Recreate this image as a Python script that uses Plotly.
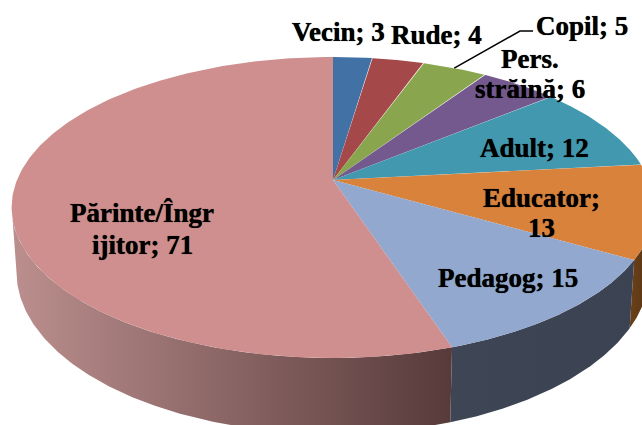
import numpy as np
import plotly.graph_objects as go

categories = ["Vecin", "Rude", "Copil", "Pers. străină", "Adult", "Educator", "Pedagog", "Părinte/Îngrijitor"]
values = [3, 4, 5, 6, 12, 13, 15, 71]
top_colors = ["#4271a6", "#a5484a", "#89a64e", "#74598f", "#4298af", "#d9823c", "#92a8cf", "#cf8f8e"]
side_scales = [
    ["#2c4a6e", "#2c4a6e"], ["#6e3031", "#6e3031"], ["#5b6e34", "#5b6e34"], ["#4d3b5f", "#4d3b5f"],
    ["#2c6574", "#2c6574"], ["#6b4018", "#543415"], ["#3e4656", "#3b4252"], ["#bb8f8e", "#573a3a"],
]
label_lines = [
    ("Vecin; 3", 338, 32), ("Rude; 4", 436, 35), ("Copil; 5", 582, 26),
    ("Pers.", 530, 59), ("străină; 6", 530, 89), ("Adult; 12", 534, 148),
    ("Educator;", 541, 198), ("13", 541, 228), ("Pedagog; 15", 508, 278),
    ("Părinte/Îngr", 142, 213), ("ijitor; 71", 142, 245),
]

# perspective projection of the pie disc
CX, CY, A, B, K, DEPTH, BASE_SCALE = 333.0, 180.0, 316.0, 145.5, 0.1827, 62.0, 0.985


def rim(deg, drop=0.0, scale=1.0):
    t = np.radians(deg)
    u, v = np.sin(t), np.cos(t)
    w = 1 + K * v
    return CX + scale * A * u / w, CY - B * v / w + drop / w


edges = np.concatenate([[0], np.cumsum(values)]) / sum(values) * 360
fig = go.Figure()

# side walls (front part only, between the silhouette angles), then top faces
for i in range(len(values)):
    a, b = max(edges[i], 105), min(edges[i + 1], 255)
    if b <= a:
        continue
    th = np.linspace(a, b, 160)
    x1, y1 = rim(th)
    x2, y2 = rim(th, DEPTH, BASE_SCALE)
    xs = np.concatenate([x1, x2[::-1]])
    ys = np.concatenate([y1, y2[::-1]])
    fig.add_trace(go.Scatter(
        x=xs, y=ys, mode="lines", fill="toself", line=dict(width=0), hoverinfo="skip",
        fillgradient=dict(type="horizontal", colorscale=[[0, side_scales[i][0]], [1, side_scales[i][1]]],
                          start=float(xs.min()), stop=float(xs.max())),
    ))

for i in range(len(values)):
    th = np.linspace(edges[i], edges[i + 1], 240)
    x, y = rim(th)
    fig.add_trace(go.Scatter(
        x=np.concatenate([[CX], x, [CX]]), y=np.concatenate([[CY], y, [CY]]),
        mode="lines", fill="toself", fillcolor=top_colors[i], line=dict(width=0),
        name=categories[i], hoverinfo="skip",
    ))

# leader line for Copil
mx, my = rim((edges[2] + edges[3]) / 2)
fig.add_trace(go.Scatter(x=[mx, 520, 533], y=[my, 31, 31], mode="lines",
                         line=dict(color="black", width=1.5), hoverinfo="skip"))

for text, x, y in label_lines:
    fig.add_annotation(x=x, y=y, text=f"<b>{text}</b>", showarrow=False, xanchor="center", yanchor="middle",
                       font=dict(family="Liberation Serif", size=27, color="black", shadow="0 0 0.7px #000"))

fig.update_layout(
    width=642, height=425, margin=dict(l=0, r=0, t=0, b=0), showlegend=False,
    paper_bgcolor="white", plot_bgcolor="white",
    xaxis=dict(range=[0, 642], visible=False, fixedrange=True),
    yaxis=dict(range=[425, 0], visible=False, fixedrange=True),
)
fig.write_html("out.html", config={"displayModeBar": False},
               post_script="document.body.style.margin='0';document.body.style.overflow='hidden';")
